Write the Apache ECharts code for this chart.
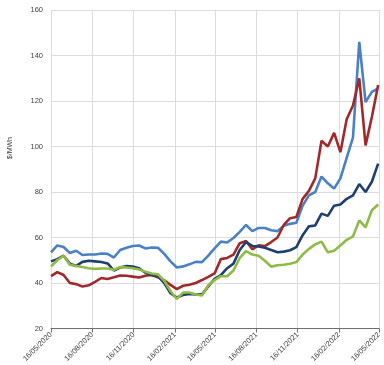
<!DOCTYPE html>
<html><head><meta charset="utf-8">
<script src="https://cdn.jsdelivr.net/npm/echarts@6/dist/echarts.min.js"></script>
<style>html,body{margin:0;padding:0;background:#fff}#c{width:384px;height:365px}</style>
</head><body><div id="c"></div>
<script>
// x positions: days since 16/05/2020, sampled every 14 days
const dayOffsets = [0,14,28,42,56,70,84,98,112,126,140,154,168,182,196,210,224,238,252,266,280,294,308,322,336,350,364,378,392,406,420,434,448,462,476,490,504,518,532,546,560,574,588,602,616,630,644,658,672,686,700,714,728];
const tickDays = [0,92,184,276,365,457,549,641,730];
const tickLabels = ['16/05/2020','16/08/2020','16/11/2020','16/02/2021','16/05/2021','16/08/2021','16/11/2021','16/02/2022','16/05/2022'];

const lightBlue = [53.5,56.5,55.8,53.2,54.2,52.3,52.5,52.5,53.0,52.8,51.2,54.5,55.5,56.3,56.5,55.2,55.6,55.5,52.8,49.5,46.8,47.3,48.2,49.3,49.2,52.0,55.2,58.2,57.8,59.8,62.5,65.5,62.8,64.2,64.2,63.2,62.8,65.2,66.0,66.5,74,78.5,80,86.8,83.8,81.5,86,95,104,146,119.5,124,125.5];
const darkRed = [43,44.8,43.5,40,39.5,38.5,39,40.5,42.2,41.8,42.5,43.3,43.2,42.8,42.4,43.2,43.5,42.5,41.2,39.2,37.3,38.8,39.2,40.0,41.3,42.7,44.2,50.5,51.0,52.5,57.5,58.5,54.8,56.6,56.2,58.0,60.0,65.5,68.5,69,77,80.5,86,102.5,100,106,97.5,112,118,130,100.5,113,127];
const navy = [49.5,50.5,52,48.5,47.5,49.3,49.8,49.5,49.2,48.6,45.5,46.8,47.5,47.2,46.5,44.5,43.5,43.0,40,35.5,33.6,34.7,35.2,35,35,38.5,41.8,43.5,46.5,48.5,54.5,58,56.3,56.1,55.5,54.5,53.5,53.8,54.4,55.8,61,64.9,65.3,70.5,69.5,74,74.5,77,78.5,83.5,80,84.5,92.5];
const green = [47.3,50,52,48,47.5,47,46.5,46.2,46.4,46.4,45.8,47,46.8,46.5,45.9,45,44.2,43.8,41,36.5,33,35.8,35.8,35,34.5,39,41.3,43,43,45.5,51,54,52.5,52,49.8,47.2,47.8,48,48.5,49.2,52.5,55,57,58.2,53.5,54.2,56.5,59,60.5,67.5,64.5,72,74.5];
const yTicks = [20,40,60,80,100,120,140,160];

const pair = arr => arr.map((v,i)=>[dayOffsets[i], v]);
const mk = (name, data, color) => ({name, type:'line', data: pair(data), showSymbol:false, symbol:'none',
  lineStyle:{width:2.6, color}, itemStyle:{color}, smooth:false, z: 3});

const chart = echarts.init(document.getElementById('c'), null, {renderer:'canvas'});
chart.setOption({
  animation:false,
  backgroundColor:'#fff',
  grid:{left:51, right:3, top:10, bottom:36, containLabel:false},
  xAxis:{type:'value', min:0, max:730,
    axisLine:{show:true, lineStyle:{color:'#6f6f6f', width:1}},
    axisTick:{show:true, customValues:tickDays, length:4, lineStyle:{color:'#6f6f6f'}},
    axisLabel:{customValues:tickDays, rotate:45, fontSize:7.5, color:'#404040', margin:5,
      fontFamily:'Liberation Sans', formatter:v=>{const k=tickDays.indexOf(Math.round(v)); return k>=0?tickLabels[k]:'';}},
    splitLine:{show:true, lineStyle:{color:'#dcdcdc', width:1}}
  },
  yAxis:{type:'value', min:20, max:160, interval:20,
    axisLine:{show:false}, axisTick:{show:false},
    axisLabel:{fontSize:7.5, color:'#404040', margin:8, fontFamily:'Liberation Sans'},
    splitLine:{show:true, lineStyle:{color:'#dcdcdc', width:1}}
  },
  graphic:[{type:'text', left:7, top:137, rotation:Math.PI/2,
    style:{text:'$/MWh', fontSize:7, fill:'#404040', fontFamily:'Liberation Sans'}}],
  series:[
    mk('Light blue', lightBlue, '#4a80c4'),
    mk('Dark red', darkRed, '#a0292b'),
    mk('Navy', navy, '#1f3f6e'),
    mk('Green', green, '#8fba47')
  ]
});
</script></body></html>
